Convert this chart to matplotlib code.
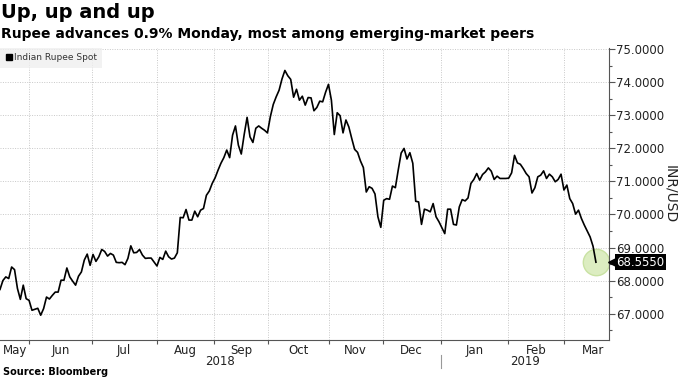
import numpy as np
import matplotlib.pyplot as plt
from matplotlib.lines import Line2D
import matplotlib.transforms as mtransforms

# INR per USD, one value per trading session (mid May 2018 - 18 Mar 2019)
rate = [
    # May
    67.73, 68.00, 68.11, 68.06, 68.41, 68.33, 67.76, 67.43, 67.86, 67.45,
    # Jun
    67.40, 67.10, 67.13, 67.16, 66.95, 67.15, 67.50, 67.44, 67.55, 67.65, 67.65,
    68.01, 68.01, 68.38, 68.11, 67.98, 67.86, 68.13, 68.26, 68.62, 68.80, 68.46,
    # Jul
    68.79, 68.58, 68.72, 68.94, 68.88, 68.74, 68.82, 68.77, 68.55, 68.54, 68.55,
    68.48, 68.67, 69.05, 68.84, 68.85, 68.94, 68.77, 68.67, 68.68, 68.68, 68.56,
    # Aug
    68.44, 68.70, 68.64, 68.89, 68.72, 68.65, 68.68, 68.84, 69.91, 69.90, 70.15,
    69.83, 69.83, 70.10, 69.93, 70.13, 70.18, 70.58, 70.71,
    # Sep
    70.94, 71.11, 71.34, 71.55, 71.72, 71.95, 71.72, 72.40, 72.68, 72.10, 71.83,
    72.42, 72.94, 72.35, 72.18, 72.61, 72.68, 72.61, 72.55,
    # Oct
    72.47, 72.96, 73.33, 73.56, 73.76, 74.10, 74.36, 74.20, 74.09, 73.55, 73.79,
    73.46, 73.58, 73.31, 73.54, 73.53, 73.14, 73.24, 73.43, 73.41, 73.70,
    # Nov
    73.94, 73.46, 72.42, 73.08, 72.99, 72.47, 72.86, 72.65, 72.30, 71.97, 71.88,
    71.62, 71.42, 70.68, 70.84, 70.79, 70.62, 69.93, 69.61,
    # Dec
    70.43, 70.48, 70.46, 70.86, 70.81, 71.35, 71.86, 72.00, 71.68, 71.87, 71.55,
    70.40, 70.38, 69.70, 70.16, 70.13, 70.08, 70.33, 69.93, 69.78,
    # Jan
    69.60, 69.42, 70.16, 70.16, 69.70, 69.68, 70.23, 70.45, 70.41, 70.50, 70.94,
    71.06, 71.24, 71.04, 71.21, 71.29, 71.41, 71.31, 71.06, 71.16, 71.09, 71.09, 71.09,
    # Feb
    71.10, 71.26, 71.79, 71.56, 71.52, 71.39, 71.24, 71.14, 70.65, 70.81, 71.14,
    71.19, 71.32, 71.09, 71.22, 71.14, 70.99, 71.06, 71.22,
    # Mar
    70.74, 70.89, 70.48, 70.33, 70.01, 70.13, 69.88, 69.68, 69.50, 69.32, 69.04, 68.555,
]

months = ['May', 'Jun', 'Jul', 'Aug', 'Sep', 'Oct', 'Nov', 'Dec', 'Jan', 'Feb', 'Mar']
# month boundaries in session units (first and last are the label span edges)
month_edges = [0, 10.1, 31.5, 53.9, 73.7, 92.1, 113.2, 131.6, 151.6, 174.8, 194.1, 213.6]
years = ['2018', '2019']
y_ticks = [67, 68, 69, 70, 71, 72, 73, 74, 75]

x = np.arange(len(rate))
x_max = 209.5

fig = plt.figure(figsize=(6.8, 3.83), dpi=100)
ax = fig.add_axes([0.0, 0.1123, 0.8956, 0.7624])

ax.plot(x[-1], rate[-1], 'o', ms=19, mfc='#dcedc1', mec='#c9e2a3', mew=1, zorder=2)
ax.plot(x, rate, color='black', lw=1.2, zorder=3)

ax.set_xlim(0, x_max)
ax.set_ylim(66.2, 75.04)

# spines
for s in ['top', 'left']:
    ax.spines[s].set_visible(False)
ax.spines['bottom'].set_color('#555555')
ax.spines['right'].set_color('#555555')

# y axis on the right
ax.yaxis.tick_right()
ax.yaxis.set_label_position('right')
ax.set_yticks(y_ticks)
ax.set_yticklabels(['%.4f' % v for v in y_ticks])
ax.set_yticks(np.arange(66.5, 75, 1.0), minor=True)
ax.tick_params(axis='y', which='major', length=4, width=0.8, color='#555555',
               labelsize=8.5, labelcolor='#222222', pad=1)
ax.tick_params(axis='y', which='minor', length=2, width=0.8, color='#555555')
ax.set_ylabel('INR/USD', rotation=270, fontsize=10, color='#222222', labelpad=9)

# x axis: ticks at month boundaries, labels centred in between
ticks = month_edges[1:-1]
mids = [(a + b) / 2 for a, b in zip(month_edges[:-1], month_edges[1:])]
ax.set_xticks(ticks)
ax.set_xticklabels([])
ax.set_xticks(mids, minor=True)
ax.set_xticklabels(months, minor=True)
ax.tick_params(axis='x', which='major', length=3, width=0.8, color='#555555')
ax.tick_params(axis='x', which='minor', length=0, labelsize=8.5, labelcolor='#222222', pad=3)

ax.grid(True, which='major', color='#c8c8c8', lw=0.7, ls=(0, (1, 1.5)))
ax.set_axisbelow(True)

# years under the months
trans = mtransforms.blended_transform_factory(ax.transData, ax.transAxes)
jan = month_edges[8]
ax.text(jan / 2, -0.075, years[0], transform=trans, ha='center', va='center',
        fontsize=8.5, color='#222222')
ax.text((jan + x_max) / 2, -0.075, years[1], transform=trans, ha='center', va='center',
        fontsize=8.5, color='#222222')
ax.add_line(Line2D([jan, jan], [-0.051, -0.096], transform=trans, color='#999999',
                   lw=0.8, clip_on=False))

# last value tag
trans_y = mtransforms.blended_transform_factory(ax.transAxes, ax.transData)
ax.plot([1.006], [rate[-1]], marker='<', ms=7, color='black', transform=trans_y,
        clip_on=False, zorder=5)
ax.text(1.012, rate[-1], '%.4f' % rate[-1], transform=trans_y, ha='left', va='center',
        fontsize=8.5, color='white', zorder=6,
        bbox=dict(boxstyle='square,pad=0.12', fc='black', ec='none'))

# legend
handle = Line2D([], [], marker='s', ls='none', color='black', ms=4)
leg = ax.legend([handle], ['Indian Rupee Spot'], loc='upper left', fontsize=6.5,
                frameon=True, borderaxespad=0, handletextpad=0.1, borderpad=0.6,
                handlelength=0.8, fancybox=False)
leg.get_frame().set_facecolor('#efefef')
leg.get_frame().set_edgecolor('none')
for t in leg.get_texts():
    t.set_color('#333333')

fig.text(0.002, 0.992, 'Up, up and up', fontsize=14, fontweight='bold', va='top', ha='left')
fig.text(0.002, 0.93, 'Rupee advances 0.9% Monday, most among emerging-market peers',
         fontsize=10, fontweight='bold', va='top', ha='left')
fig.text(0.004, 0.015, 'Source: Bloomberg', fontsize=7, fontweight='bold', va='bottom', ha='left')

fig.savefig('out.png', dpi=100)
